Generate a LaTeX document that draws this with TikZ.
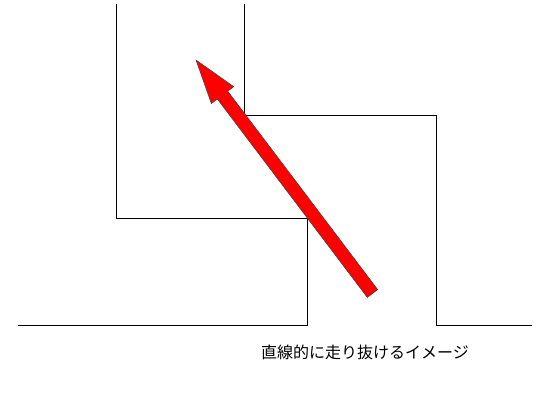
\documentclass[tikz,border=0pt]{standalone}
\usepackage{fontspec}
\newfontfamily\jpfont{Noto Sans CJK JP}
\usepackage{xcolor}
\usetikzlibrary{calc}
\definecolor{arrowred}{RGB}{255,0,0}

\begin{document}
\begin{tikzpicture}[x=1pt, y=-1pt]
    \useasboundingbox (0,0) rectangle (550,400);
    % 通路の壁
    \draw [line width=0.8pt] (116,4) -- (116,218) -- (307,218) -- (307,325) -- (18,325);
    \draw [line width=0.8pt] (244,4) -- (244,115) -- (436,115) -- (436,325) -- (532,325);

    % 矢印
    \coordinate (tail) at (372.5,293.5);
    \coordinate (tip) at (196,60);
    \coordinate (neck) at ($(tip)!44pt!(tail)$);
    \draw [fill=arrowred, draw=black!75, line width=0.5pt]
        ($(tail)!6.5pt!90:(tip)$) -- ($(neck)!6.5pt!-90:(tail)$) -- ($(neck)!14pt!-90:(tail)$)
        -- (tip) -- ($(neck)!14pt!90:(tail)$) -- ($(neck)!6.5pt!90:(tail)$)
        -- ($(tail)!6.5pt!-90:(tip)$) -- cycle;

    % ラベル
    \node [font=\jpfont\fontsize{16}{19}\selectfont] (caption) at (365,352) {直線的に走り抜けるイメージ};
\end{tikzpicture}
\end{document}
